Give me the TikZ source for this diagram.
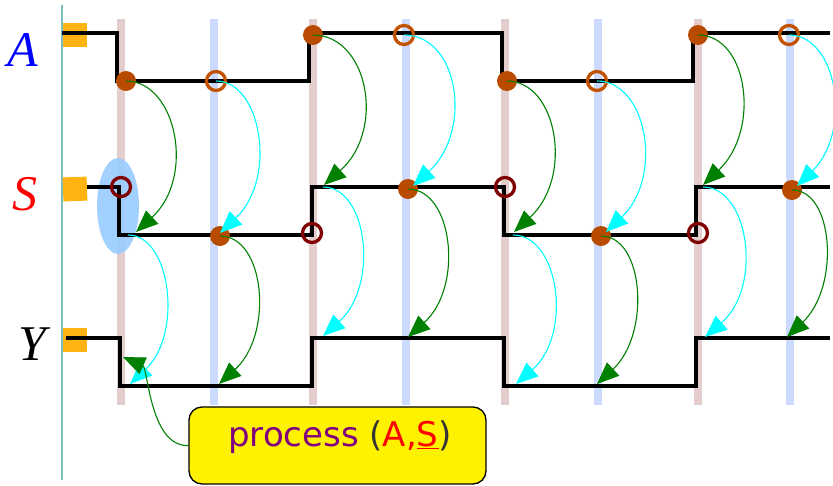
\documentclass[tikz,border=0pt]{standalone}
\usepackage{fontspec}
\setmainfont{Liberation Serif}
\newfontfamily\procfont{DejaVu Sans}
\usetikzlibrary{arrows.meta,shapes.geometric}

\definecolor{pinkbar}{RGB}{228,205,205}
\definecolor{bluebar}{RGB}{204,218,255}
\definecolor{tealline}{RGB}{122,190,190}
\definecolor{sqorange}{RGB}{255,180,20}
\definecolor{dotbrown}{RGB}{185,75,0}
\definecolor{ringbrown}{RGB}{192,82,0}
\definecolor{ringred}{RGB}{128,0,0}
\definecolor{selblue}{RGB}{153,204,255}
\definecolor{procpurple}{RGB}{128,0,128}
\definecolor{pargray}{RGB}{51,51,51}
\definecolor{greenarr}{RGB}{0,128,0}
\definecolor{cyanarr}{RGB}{0,255,255}

\begin{document}
\begin{tikzpicture}[x=1pt,y=-1pt,
  pbar/.style={draw=pinkbar,line width=8pt},
  bbar/.style={draw=bluebar,line width=8pt},
  sig/.style={line width=3.5pt,draw=black},
  sq/.style={fill=sqorange,draw=none,minimum size=24pt,inner sep=0pt},
  fdot/.style={circle,fill=dotbrown,minimum size=20pt,inner sep=0pt},
  ringA/.style={circle,draw=ringbrown,line width=3.3pt,minimum size=19pt,inner sep=0pt},
  ringS/.style={circle,draw=ringred,line width=3.3pt,minimum size=19pt,inner sep=0pt},
  garr/.style={color=greenarr,line width=1.1pt,-{Triangle[length=22pt,width=18pt]}},
  carr/.style={color=cyanarr,line width=1.1pt,-{Triangle[length=22pt,width=18pt]}},
  siglabel/.style={font=\fontsize{50}{50}\selectfont\itshape,anchor=base,inner sep=0pt},
  procbox/.style={draw=black,line width=1.3pt,fill=yellow,rounded corners=13pt,minimum width=297pt,minimum height=77pt,inner sep=0pt}
]
\useasboundingbox (0,0) rectangle (833,485);

% teal axis
\draw[tealline,line width=1.5pt] (62,5) -- (62,480);

% clock bars
\foreach \x in {121,313,505,698} \draw[pbar] (\x,19) -- (\x,405);
\foreach \x in {214,406,598,790} \draw[bbar] (\x,19) -- (\x,405);

% selection ellipse
\node[ellipse,fill=selblue,fill opacity=0.9,minimum width=42pt,minimum height=96pt,inner sep=0pt] (sel) at (118,206) {};

% squares
\node[sq] (sqA) at (75,35) {};
\node[sq,rotate=2] (sqS) at (75,189) {};
\node[sq] (sqY) at (75,340) {};

% labels
\node[siglabel,text=blue] (labA) at (23,66) {A};
\node[siglabel,text=red] (labS) at (25,210) {S};
\node[siglabel,text=black] (labY) at (32,360) {Y};

% signals
\draw[sig] (62,33) -- (117,33) -- (117,81) -- (309,81) -- (309,33) -- (502,33) -- (502,81) -- (693,81) -- (693,33) -- (830,33);
\draw[sig] (87,187) -- (119,187) -- (119,235) -- (312,235) -- (312,187) -- (504,187) -- (504,235) -- (696,235) -- (696,187) -- (830,187);
\draw[sig] (66,338) -- (120,338) -- (120,386) -- (312,386) -- (312,338) -- (504,338) -- (504,386) -- (696,386) -- (696,338) -- (830,338);

% markers on A
\node[fdot] (aD1) at (126,81) {};
\node[fdot] (aD2) at (313,35) {};
\node[fdot] (aD3) at (507,81) {};
\node[fdot] (aD4) at (698,35) {};
\node[ringA] (aR1) at (216,81) {};
\node[ringA] (aR2) at (404,35) {};
\node[ringA] (aR3) at (597,81) {};
\node[ringA] (aR4) at (789,35) {};

% markers on S
\node[ringS] (sR1) at (121,187) {};
\node[ringS] (sR2) at (312,233) {};
\node[ringS] (sR3) at (505,187) {};
\node[ringS] (sR4) at (698,233) {};
\node[fdot] (sD1) at (220,236) {};
\node[fdot] (sD2) at (408,189) {};
\node[fdot] (sD3) at (601,236) {};
\node[fdot] (sD4) at (792,190) {};

% arrow targets / sources
\coordinate (gS1) at (136,232);
\coordinate (cS1) at (220,233);
\coordinate (gS2) at (324,185);
\coordinate (cS2) at (413,186);
\coordinate (gS3) at (514,232);
\coordinate (cS3) at (606,232);
\coordinate (gS4) at (703,185);
\coordinate (cS4) at (797,186);
\coordinate (sc1) at (128,235);
\coordinate (sc2) at (323,187);
\coordinate (sc3) at (513,235);
\coordinate (sc4) at (703,187);
\coordinate (cY1) at (130,384);
\coordinate (gY1) at (219,384);
\coordinate (cY2) at (323,336);
\coordinate (gY2) at (408,337);
\coordinate (cY3) at (516,384);
\coordinate (gY3) at (597,384);
\coordinate (cY4) at (705,337);
\coordinate (gY4) at (787,337);
\coordinate (pY) at (123,357);

% A -> S
\draw[garr] (aD1.center) .. controls +(50,0) and +(60,-55) .. (gS1);
\draw[carr] (aR1.center) .. controls +(45,0) and +(58,-55) .. (cS1);
\draw[garr] (aD2.center) .. controls +(55,0) and +(62,-55) .. (gS2);
\draw[carr] (aR2.center) .. controls +(55,0) and +(60,-55) .. (cS2);
\draw[garr] (aD3.center) .. controls +(50,0) and +(60,-55) .. (gS3);
\draw[carr] (aR3.center) .. controls +(50,0) and +(58,-55) .. (cS3);
\draw[garr] (aD4.center) .. controls +(50,0) and +(58,-55) .. (gS4);
\draw[carr] (aR4.center) .. controls +(48,0) and +(56,-55) .. (cS4);

% S -> Y
\draw[carr] (sc1) .. controls +(43,0) and +(53,-50) .. (cY1);
\draw[garr] (sD1.center) .. controls +(45,0) and +(55,-50) .. (gY1);
\draw[carr] (sc2) .. controls +(45,0) and +(56,-50) .. (cY2);
\draw[garr] (sD2.center) .. controls +(45,0) and +(56,-50) .. (gY2);
\draw[carr] (sc3) .. controls +(46,0) and +(57,-50) .. (cY3);
\draw[garr] (sD3.center) .. controls +(43,0) and +(54,-50) .. (gY3);
\draw[carr] (sc4) .. controls +(46,0) and +(58,-50) .. (cY4);
\draw[garr] (sD4.center) .. controls +(42,0) and +(53,-50) .. (gY4);

% process box
\node[procbox] (proc) at (337.5,445.5) {};
\node[anchor=base,inner sep=0pt,font=\procfont\fontsize{34}{34}\selectfont] (ptext) at (340,446)
  {\textcolor{procpurple}{process} \textcolor{pargray}{(}\textcolor{red}{A,\underline{S}}\textcolor{pargray}{)}};
\draw[greenarr,line width=1.1pt,-{Triangle[length=22pt,width=18pt]}] (proc.west) .. controls (150,447) and (148,368) .. (pY);

\end{tikzpicture}
\end{document}
